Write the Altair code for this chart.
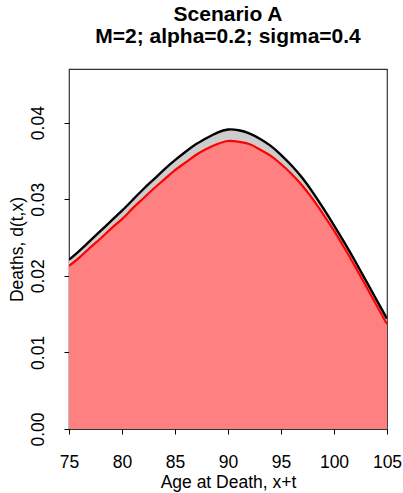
import altair as alt
import pandas as pd

# Age at death
ages = [75, 76, 77, 78, 79, 80, 81, 82, 83, 84, 85, 86, 87, 88, 89, 90,
        91, 92, 93, 94, 95, 96, 97, 98, 99, 100, 101, 102, 103, 104, 105]
# black curve (total deaths)
total = [0.0221, 0.0233, 0.0246, 0.0259, 0.0272, 0.0285, 0.0299, 0.0313,
         0.0326, 0.0339, 0.0351, 0.0362, 0.0372, 0.0380, 0.0387, 0.0391,
         0.0390, 0.0386, 0.0379, 0.0370, 0.0358, 0.0344, 0.0328, 0.0309,
         0.0288, 0.0266, 0.0243, 0.0219, 0.0194, 0.0169, 0.0144]
# red curve
red = [0.0213, 0.0224, 0.0237, 0.0249, 0.0262, 0.0274, 0.0288, 0.0301,
       0.0314, 0.0326, 0.0338, 0.0348, 0.0358, 0.0366, 0.0372, 0.0376,
       0.0375, 0.0372, 0.0365, 0.0357, 0.0346, 0.0333, 0.0318, 0.0300,
       0.0280, 0.0259, 0.0236, 0.0212, 0.0187, 0.0162, 0.0137]

x_ticks = [75, 80, 85, 90, 95, 100, 105]
y_ticks = [0.00, 0.01, 0.02, 0.03, 0.04]

df = pd.DataFrame({"age": ages, "total": total, "red": red})

FONT = "Liberation Sans"
FS = 17.5

xs = alt.X("age:Q",
           scale=alt.Scale(domain=[75, 105], nice=False, zero=False),
           axis=alt.Axis(values=x_ticks, title="Age at Death, x+t", grid=False,
                         domain=False, tickSize=5, tickColor="black",
                         labelPadding=19, labelFontSize=FS, titleFontSize=FS,
                         labelColor="black", titleColor="black",
                         titleFontWeight="normal", titlePadding=3,
                         labelFont=FONT, titleFont=FONT, labelFlush=False))
ys_axis = alt.Axis(values=y_ticks, format=".2f", title="Deaths, d(t,x)", grid=False,
                   domain=False, tickSize=5, tickColor="black",
                   labelAngle=270, labelAlign="center", labelBaseline="alphabetic",
                   labelPadding=21, labelFontSize=FS, titleFontSize=FS,
                   labelColor="black", titleColor="black",
                   titleFontWeight="normal", titlePadding=3,
                   labelFont=FONT, titleFont=FONT, labelFlush=False)
yscale = alt.Scale(domain=[0, 0.047], nice=False, zero=True)

base = alt.Chart(df)
interp = "natural"

gray_area = base.mark_area(color="#CCCCCC", interpolate=interp, clip=True).encode(
    x=xs, y=alt.Y("total:Q", scale=yscale, axis=ys_axis))
red_area = base.mark_area(color="#FF8080", interpolate=interp, clip=True).encode(
    x="age:Q", y="red:Q")
black_line = base.mark_line(color="black", strokeWidth=2.4, interpolate=interp, clip=True).encode(
    x="age:Q", y="total:Q")
red_line = base.mark_line(color="#FF0000", strokeWidth=2.2, interpolate=interp, clip=True).encode(
    x="age:Q", y="red:Q")

chart = alt.layer(gray_area, red_area, black_line, red_line).properties(
    width=318, height=360,
    title=alt.TitleParams(text=["Scenario A", "M=2; alpha=0.2; sigma=0.4"],
                          font=FONT, fontSize=21, fontWeight="bold", color="black",
                          anchor="middle", lineHeight=22, offset=22),
    autosize=alt.AutoSizeParams(type="none"),
    padding={"left": 69, "top": 69, "right": 16, "bottom": 64},
    background="white",
).configure_view(stroke="#333333", strokeWidth=1.2)

chart.save("out.html", embed_options={"renderer": "svg", "actions": False})
